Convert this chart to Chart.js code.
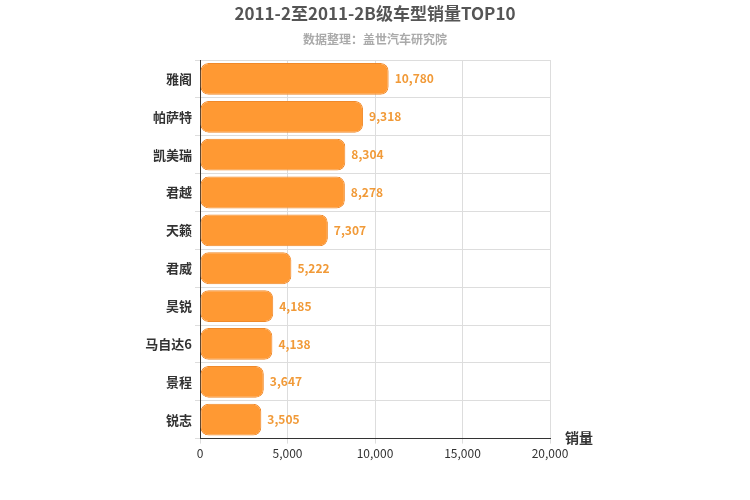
<!DOCTYPE html>
<html><head><meta charset="utf-8">
<script src="https://cdn.jsdelivr.net/npm/chart.js@4/dist/chart.umd.min.js"></script>
<style>body{margin:0;background:#fff}#w{width:750px;height:500px}</style>
</head><body><div id="w"><canvas id="c"></canvas></div>
<script>
const categories=["雅阁","帕萨特","凯美瑞","君越","天籁","君威","昊锐","马自达6","景程","锐志"];
const sales=[10780,9318,8304,8278,7307,5222,4185,4138,3647,3505];
const xTicks=[0,5000,10000,15000,20000];
const F='"Noto Sans CJK SC","Noto Sans",sans-serif';
const deco={id:'deco',afterDraw(ch){const c=ch.ctx;c.save();
c.textAlign='center';c.textBaseline='middle';
c.fillStyle='#555';c.font='bold 17px '+F;c.fillText('2011-2至2011-2B级车型销量TOP10',375,14);
c.fillStyle='#aaa';c.font='bold 12px '+F;c.fillText('数据整理：盖世汽车研究院',375,39);
c.fillStyle='#333';c.font='bold 14px '+F;c.textAlign='left';c.fillText('销量',565,438);
const m=ch.getDatasetMeta(0);c.fillStyle='#f19a38';c.font='bold 12px '+F;
m.data.forEach((b,i)=>c.fillText(sales[i].toLocaleString('en-US'),b.x+6,b.y));
c.restore();}};
new Chart(document.getElementById('c'),{type:'bar',
data:{labels:categories,datasets:[{data:sales,backgroundColor:'#ff9933',borderColor:'#f0892a',borderWidth:1,borderRadius:8,borderSkipped:false,barPercentage:0.84,categoryPercentage:1}]},
options:{indexAxis:'y',responsive:true,maintainAspectRatio:false,animation:false,
layout:{padding:{top:60,left:140,right:200,bottom:36}},
plugins:{legend:{display:false},tooltip:{enabled:false}},
scales:{x:{min:0,max:20000,afterBuildTicks(s){s.ticks=xTicks.map(v=>({value:v}));},
ticks:{color:'#333',font:{size:12,family:F},callback:v=>v.toLocaleString('en-US'),maxRotation:0},
grid:{color:'#ddd',drawTicks:true,tickLength:5},border:{color:'#333'}},
y:{afterFit(s){s.width=60;},ticks:{color:'#333',font:{size:13,weight:'bold',family:F}},
grid:{color:'#ddd',offset:true,tickLength:5},border:{color:'#333'}}}},
plugins:[deco]});
</script></body></html>
